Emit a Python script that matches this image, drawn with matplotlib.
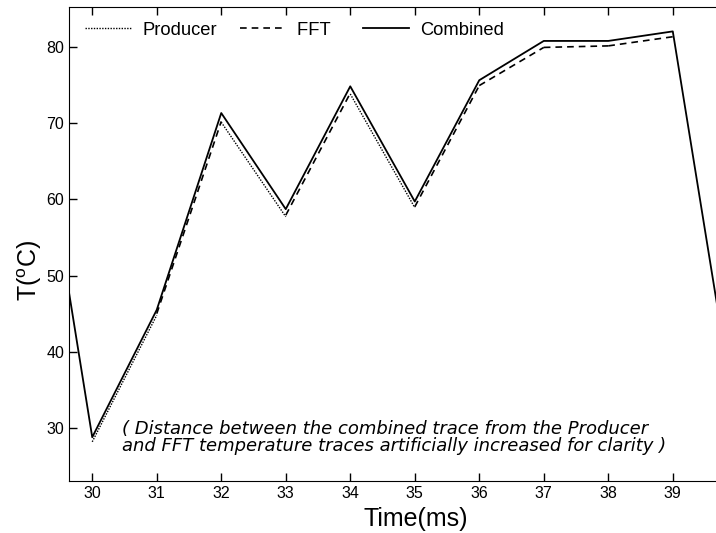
import matplotlib
matplotlib.use('Agg')
import matplotlib.pyplot as plt
import numpy as np

# time (ms) and temperature traces
time = [30, 31, 32, 33, 34, 35, 36, 37, 38, 39]
producer = [28.2, 44.8, 70.1, 57.7, 73.8, 58.9, 74.8, 79.9, 80.0, 81.3]
fft = [28.3, 45.0, 70.2, 57.9, 73.9, 59.0, 74.9, 79.9, 80.1, 81.3]

time_comb = [29, 30, 31, 32, 33, 34, 35, 36, 37, 38, 39, 40]
combined = [81.5, 28.8, 45.5, 71.3, 58.7, 74.8, 59.7, 75.6, 80.75, 80.75, 82.0, 29.8]

# start times of the intervals where each task trace is drawn
producer_starts = [30, 32, 34]
fft_starts = [31, 33, 35, 36, 37, 38]

plt.rcParams['font.family'] = ['Liberation Sans', 'DejaVu Sans']

fig = plt.figure(figsize=(7.16, 5.33), dpi=100)
ax = fig.add_axes([0.0964, 0.0981, 0.9036, 0.8888])

t = np.array(time)
for i, s in enumerate(producer_starts):
    k = time.index(s)
    ax.plot(t[k:k + 2], producer[k:k + 2], color='black', linestyle=(0, (1, 1)),
            lw=1.0, label='Producer' if i == 0 else None)
for i, s in enumerate(fft_starts):
    k = time.index(s)
    ax.plot(t[k:k + 2], fft[k:k + 2], color='black', linestyle=(0, (4, 3)),
            lw=1.2, label='FFT  ' if i == 0 else None)
ax.plot(time_comb, combined, color='black', lw=1.3, label='Combined')

ax.set_xlim(29.64, 39.67)
ax.set_ylim(23.1, 85.2)
ax.set_xticks(range(30, 40))
ax.set_yticks(range(30, 90, 10))
ax.tick_params(direction='in', length=6, width=1, labelsize=11.5, top=True, right=False)
ax.spines['right'].set_visible(False)

ax.set_xlabel('Time(ms)', fontsize=18)
ax.xaxis.set_label_coords(0.536, -0.055)
ax.set_ylabel('T($^\\mathregular{o}$C)', fontsize=18)
ax.yaxis.set_label_coords(-0.038, 0.445)

ax.text(0.082, 0.129, '( Distance between the combined trace from the Producer\n'
        'and FFT temperature traces artificially increased for clarity )',
        transform=ax.transAxes, fontsize=13, style='italic', family='DejaVu Sans',
        linespacing=0.98, va='top')

ax.legend(loc='center left', ncol=3, frameon=False, fontsize=13.2, handlelength=2.5,
          columnspacing=1.2, handletextpad=0.65, borderpad=0, borderaxespad=0,
          bbox_to_anchor=(0.025, 0.951))

fig.savefig('out.png', dpi=100)
